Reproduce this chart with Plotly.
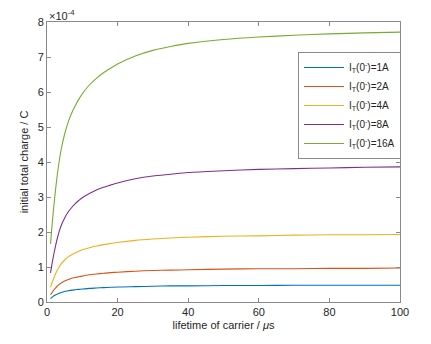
import plotly.graph_objects as go

# lifetime of carrier (μs)
tau = [1, 1.5, 2, 2.5, 3, 3.5, 4, 5, 6, 7, 8, 9, 10, 12, 14, 16, 18, 20, 25, 30, 35, 40, 50, 60, 70, 80, 90, 100]

# initial total charge, in units of 1e-4 C
q_1A = [0.10, 0.14, 0.18, 0.21, 0.23, 0.25, 0.27, 0.30, 0.32, 0.34, 0.35, 0.36, 0.37, 0.39, 0.40, 0.41, 0.42, 0.43, 0.44, 0.45, 0.46, 0.46, 0.47, 0.47, 0.48, 0.48, 0.48, 0.48]
q_2A = [0.21, 0.28, 0.35, 0.41, 0.46, 0.51, 0.54, 0.60, 0.64, 0.68, 0.70, 0.72, 0.74, 0.78, 0.80, 0.82, 0.84, 0.85, 0.88, 0.90, 0.91, 0.92, 0.94, 0.95, 0.95, 0.96, 0.96, 0.97]
q_4A = [0.42, 0.57, 0.70, 0.82, 0.93, 1.01, 1.09, 1.20, 1.29, 1.35, 1.40, 1.45, 1.49, 1.55, 1.60, 1.64, 1.67, 1.70, 1.76, 1.80, 1.83, 1.85, 1.88, 1.89, 1.91, 1.92, 1.92, 1.93]
q_8A = [0.83, 1.14, 1.40, 1.64, 1.85, 2.03, 2.18, 2.40, 2.57, 2.70, 2.81, 2.90, 2.98, 3.10, 3.20, 3.28, 3.34, 3.40, 3.52, 3.60, 3.65, 3.70, 3.75, 3.79, 3.81, 3.83, 3.85, 3.86]
q_16A = [1.66, 2.27, 2.80, 3.28, 3.70, 4.05, 4.35, 4.80, 5.14, 5.40, 5.61, 5.79, 5.95, 6.20, 6.39, 6.55, 6.68, 6.80, 7.03, 7.19, 7.30, 7.39, 7.50, 7.57, 7.62, 7.66, 7.69, 7.71]

series_names = ["1A", "2A", "4A", "8A", "16A"]
series_vals = [q_1A, q_2A, q_4A, q_8A, q_16A]
colors = ["#0072BD", "#D95319", "#EDB120", "#7E2F8E", "#77AC30"]

x_ticks = [0, 20, 40, 60, 80, 100]
y_ticks = [0, 1, 2, 3, 4, 5, 6, 7, 8]

fig = go.Figure()
for name, vals, c in zip(series_names, series_vals, colors):
    fig.add_trace(go.Scatter(
        x=tau, y=vals, mode="lines", line=dict(color=c, width=1.1, shape="spline", smoothing=0.8),
        name="I<sub>T</sub>(0<sup>-</sup>)=" + name,
    ))

axis_color = "#8a8a8a"
font_color = "#262626"
font_family = "Liberation Sans, Arial, sans-serif"

fig.update_layout(
    width=431, height=344,
    margin=dict(l=47, r=31, t=22, b=42),
    paper_bgcolor="white", plot_bgcolor="white",
    font=dict(family=font_family, size=11, color=font_color),
    showlegend=True,
    legend=dict(
        x=0.711, y=0.893, xanchor="left", yanchor="top",
        bgcolor="white", bordercolor="#8a8a8a", borderwidth=1,
        font=dict(size=10, color=font_color, family=font_family),
        itemwidth=40,
    ),
    xaxis=dict(
        range=[0, 100], tickvals=x_ticks, ticks="inside", ticklen=4, tickcolor=axis_color,
        showline=True, linecolor=axis_color, linewidth=1, mirror="ticks",
        showgrid=False, zeroline=False,
        title=dict(text="lifetime of carrier / <i>μ</i>s", standoff=4, font=dict(size=11)),
        tickfont=dict(size=11),
    ),
    yaxis=dict(
        range=[0, 8], tickvals=y_ticks, ticks="inside", ticklen=4, tickcolor=axis_color,
        showline=True, linecolor=axis_color, linewidth=1, mirror="ticks",
        showgrid=False, zeroline=False,
        title=dict(text="initial total charge / C", standoff=6, font=dict(size=11)),
        tickfont=dict(size=11),
    ),
    annotations=[dict(
        text="×10<sup>-4</sup>", xref="paper", yref="paper", x=0, y=1,
        xanchor="left", yanchor="bottom", showarrow=False,
        font=dict(size=11, color=font_color), yshift=-2,
    )],
)

fig.write_html("out.html")
